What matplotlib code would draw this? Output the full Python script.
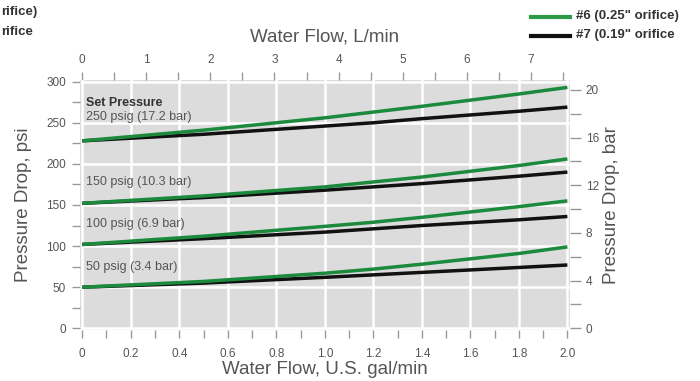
import numpy as np
import matplotlib.pyplot as plt
from matplotlib.lines import Line2D

plt.rcParams['font.family'] = ['Liberation Sans', 'DejaVu Sans']

# Datos
flujo_gpm = [0, 0.5, 1.0, 1.2, 1.4, 1.8, 2.0]

# orificio #6 (verde) y #7 (negro), caida de presion en psi
p250_6 = [228, 241, 256, 263, 270, 285, 293]
p250_7 = [228, 236, 246, 250, 255, 264, 269]
p150_6 = [152, 161, 172, 178, 184, 198, 206]
p150_7 = [152, 159, 168, 172, 176, 185, 190]
p100_6 = [102, 112, 124, 129, 135, 148, 155]
p100_7 = [102, 109, 117, 121, 125, 132, 136]
p50_6 = [50, 57, 67, 72, 78, 91, 99]
p50_7 = [50, 55, 62, 65, 68, 74, 77]

etiquetas = ["250 psig (17.2 bar)", "150 psig (10.3 bar)",
             "100 psig (6.9 bar)", "50 psig (3.4 bar)"]
etiq_y = [257, 178, 127, 74]

verde = "#1b8a3c"
negro = "#111111"
gris_txt = "#555555"
gris_tick = "#999999"

fig = plt.figure(figsize=(7, 3.81), dpi=100)
ax = fig.add_axes([0.114, 0.134, 0.700, 0.656])
ax.set_facecolor("#dcdcdc")

for g, k in [(p250_6, p250_7), (p150_6, p150_7), (p100_6, p100_7), (p50_6, p50_7)]:
    ax.plot(flujo_gpm, k, color=negro, lw=2.5, solid_capstyle="butt", zorder=3)
    ax.plot(flujo_gpm, g, color=verde, lw=2.5, solid_capstyle="butt", zorder=4)

ax.set_xlim(-0.01, 2.01)
ax.set_ylim(-2, 302)
ax.set_xticks(np.arange(0, 2.01, 0.2))
ax.set_xticks(np.arange(0.1, 2.0, 0.2), minor=True)
ax.set_xticklabels(["0", "0.2", "0.4", "0.6", "0.8", "1.0", "1.2", "1.4", "1.6", "1.8", "2.0"])
ax.set_yticks(np.arange(0, 301, 50))
ax.set_yticks(np.arange(25, 300, 50), minor=True)
ax.grid(True, which="major", color="white", lw=1.8)
ax.set_axisbelow(True)
for s in ax.spines.values():
    s.set_visible(False)
ax.tick_params(which="both", colors=gris_tick, labelcolor=gris_txt, labelsize=8.5, length=6, width=1)
ax.tick_params(axis="x", which="both", pad=7)
ax.tick_params(axis="y", which="both", pad=4)
ax.set_xlabel("Water Flow, U.S. gal/min", color=gris_txt, fontsize=13.5, labelpad=1)
ax.set_ylabel("Pressure Drop, psi", color=gris_txt, fontsize=13.5, labelpad=10)

# eje de arriba en L/min
top = ax.secondary_xaxis("top", functions=(lambda x: x * 3.785, lambda x: x / 3.785))
top.set_xticks(range(8))
top.set_xticks(np.arange(0.5, 7.6, 1.0), minor=True)
top.spines["top"].set_visible(False)
top.tick_params(which="both", colors=gris_tick, labelcolor=gris_txt, labelsize=8.5, length=6, width=1, pad=4)
top.set_xlabel("Water Flow, L/min", color=gris_txt, fontsize=13.5, labelpad=9)

# eje derecho en bar
der = ax.secondary_yaxis("right", functions=(lambda p: p / 14.5, lambda b: b * 14.5))
der.set_yticks(range(0, 21, 4))
der.set_yticks(range(2, 21, 4), minor=True)
der.spines["right"].set_visible(False)
der.tick_params(which="both", colors=gris_tick, labelcolor=gris_txt, labelsize=8.5, length=8, width=1)
der.set_ylabel("Pressure Drop, bar", color=gris_txt, fontsize=13.5, labelpad=3)

# etiquetas de presion
ax.text(0.015, 274, "Set Pressure", fontsize=9, color="#333333", fontweight="bold", va="center")
for t, y in zip(etiquetas, etiq_y):
    ax.text(0.015, y, t, fontsize=9, color=gris_txt, va="center")

# leyenda arriba a la derecha
fig.add_artist(Line2D([531 / 700, 570 / 700], [1 - 17 / 381] * 2, color="#2e9a48", lw=3))
fig.add_artist(Line2D([531 / 700, 570 / 700], [1 - 36 / 381] * 2, color=negro, lw=3))
fig.text(576 / 700, 1 - 16 / 381, '#6 (0.25" orifice)', fontsize=9.5, color="#333333",
         fontweight="bold", va="center")
fig.text(576 / 700, 1 - 35 / 381, '#7 (0.19" orifice', fontsize=9.5, color="#333333",
         fontweight="bold", va="center")

# restos de la misma leyenda cortados a la izquierda
fig.text(1 / 700, 1 - 12 / 381, 'rifice)', fontsize=9.5, color="#333333", fontweight="bold", va="center")
fig.text(1 / 700, 1 - 32 / 381, 'rifice', fontsize=9.5, color="#333333", fontweight="bold", va="center")

fig.savefig("out.png", dpi=100)
